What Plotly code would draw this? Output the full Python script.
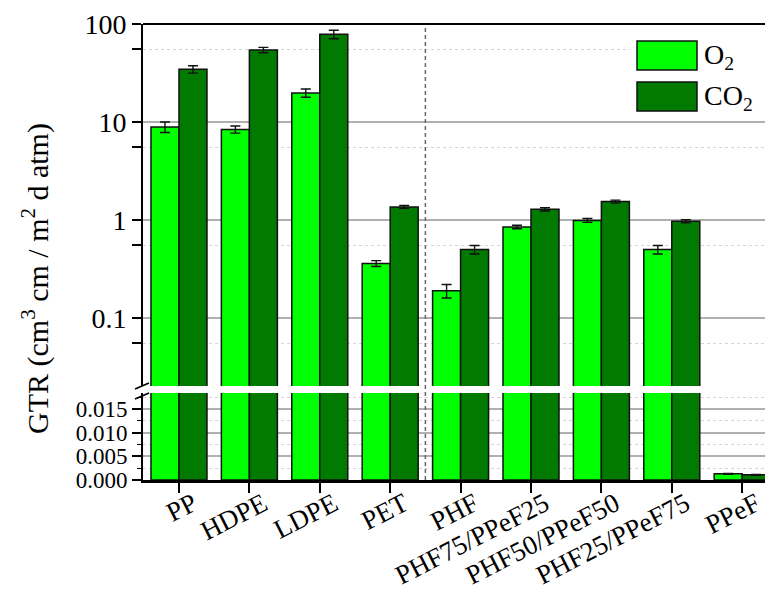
import plotly.graph_objects as go

# ---------------- data ----------------
categories = ["PP", "HDPE", "LDPE", "PET", "PHF",
              "PHF75/PPeF25", "PHF50/PPeF50", "PHF25/PPeF75", "PPeF"]
o2_values = [8.9, 8.4, 19.8, 0.36, 0.19, 0.85, 0.99, 0.50, 0.0013]
o2_errors = [1.1, 0.7, 1.9, 0.025, 0.03, 0.035, 0.045, 0.05, 0.0001]
co2_values = [34.5, 54.3, 78.5, 1.36, 0.50, 1.285, 1.54, 0.97, 0.0011]
co2_errors = [3.0, 3.4, 7.7, 0.045, 0.05, 0.05, 0.055, 0.035, 0.0001]
series_names = ["O<sub>2</sub>", "CO<sub>2</sub>"]

top_tick_vals = [0.1, 1, 10, 100]
top_tick_text = ["0.1", "1", "10", "100"]
top_minor_vals = [0.055, 0.55, 5.5, 55]
bottom_tick_vals = [0, 0.005, 0.010, 0.015]
bottom_tick_text = ["0.000", "0.005", "0.010", "0.015"]
y_title = "GTR (cm<sup>3</sup> cm / m<sup>2</sup> d atm)"

# ---------------- style ----------------
FONT = "Liberation Serif"
C_O2 = "#00FF00"
C_CO2 = "#007A00"
W, H = 765, 590
ML, MR, MT, MB = 143, 0, 24, 110
PW, PH = W - ML - MR, H - MT - MB
TOP_DOMAIN = [(480 - 386) / PH, 1.0]
BOT_DOMAIN = [0.0, (480 - 393) / PH]

fig = go.Figure()
series = [(series_names[0], o2_values, o2_errors, C_O2),
          (series_names[1], co2_values, co2_errors, C_CO2)]
for yax in ["y", "y2"]:
    for name, vals, errs, col in series:
        fig.add_trace(go.Bar(
            x=categories, y=vals, name=name, xaxis="x", yaxis=yax,
            marker=dict(color=col, line=dict(color="#111111", width=1.5)),
            error_y=dict(type="data", array=errs, visible=True,
                         color="#111111", thickness=1.4, width=5),
            showlegend=False,
        ))

grid_major = "#b0b0b0"
grid_minor = "#d6d6d6"

fig.update_layout(
    width=W, height=H,
    margin=dict(l=ML, r=MR, t=MT, b=MB, autoexpand=False),
    plot_bgcolor="white", paper_bgcolor="white",
    barmode="group", bargap=0.2045, bargroupgap=0,
    font=dict(family=FONT, color="black"),
    xaxis=dict(
        domain=[0, 1], anchor="y2", type="category",
        categoryorder="array", categoryarray=categories,
        range=[-0.511, 8.324], automargin=False,
        showline=True, linecolor="black", linewidth=2.5,
        ticks="outside", ticklen=10, tickwidth=1.5, tickcolor="black",
        tickangle=-27, tickfont=dict(family=FONT, size=27),
        ticklabelshift=14, ticklabelstandoff=-15,
        showgrid=False, zeroline=False,
    ),
    yaxis=dict(
        domain=TOP_DOMAIN, anchor="x", type="log",
        range=[-1.694, 2], automargin=False,
        tickmode="array", tickvals=top_tick_vals, ticktext=top_tick_text,
        tickfont=dict(family=FONT, size=28),
        showline=True, linecolor="black", linewidth=2,
        ticks="outside", ticklen=9, tickwidth=1.5, tickcolor="black",
        showgrid=True, gridcolor=grid_major, gridwidth=1.5,
        minor=dict(tickmode="array", tickvals=top_minor_vals,
                   ticks="outside", ticklen=9, tickwidth=1.5, tickcolor="black",
                   showgrid=True, gridcolor=grid_minor, gridwidth=1.2,
                   griddash="3px,3px"),
        zeroline=False,
    ),
    yaxis2=dict(
        domain=BOT_DOMAIN, anchor="x",
        range=[0, 0.0184], automargin=False,
        tickmode="array", tickvals=bottom_tick_vals, ticktext=bottom_tick_text,
        tickfont=dict(family=FONT, size=23),
        showline=True, linecolor="black", linewidth=2,
        ticks="outside", ticklen=9, tickwidth=1.5, tickcolor="black",
        showgrid=True, gridcolor=grid_major, gridwidth=1.5,
        minor=dict(tick0=0, dtick=0.0025, ticks="outside", ticklen=4,
                   tickwidth=1, tickcolor="black",
                   showgrid=True, gridcolor=grid_minor, gridwidth=1.2,
                   griddash="3px,3px"),
        zeroline=False,
    ),
)

def px_x(p):
    return (p - ML) / PW

def px_y(p):
    return (MT + PH - p) / PH

shapes = []
# top border of upper panel
shapes.append(dict(type="line", xref="paper", yref="paper", x0=0, x1=1, y0=1, y1=1,
                   line=dict(color="black", width=2)))
# vertical dashed separator between PET and PHF
shapes.append(dict(type="line", xref="x", yref="paper", x0=3.5, x1=3.5,
                   y0=0, y1=px_y(28), line=dict(color="#666666", width=1.5, dash="4px,3px")))
# axis break marks
for yc in (386, 396):
    shapes.append(dict(type="line", xref="paper", yref="paper",
                       x0=px_x(135), x1=px_x(149), y0=px_y(yc + 3), y1=px_y(yc - 3),
                       line=dict(color="black", width=1.5)))
# custom legend
shapes.append(dict(type="rect", xref="paper", yref="paper", layer="above",
                   x0=px_x(630), x1=px_x(764), y0=px_y(118), y1=px_y(32),
                   fillcolor="white", line=dict(width=0)))
for (name, _, _, col), top in zip(series, (41, 82)):
    shapes.append(dict(type="rect", xref="paper", yref="paper", layer="above",
                       x0=px_x(637), x1=px_x(697), y0=px_y(top + 29), y1=px_y(top),
                       fillcolor=col, line=dict(color="#111111", width=1.5)))
    fig.add_annotation(text=name, xref="paper", yref="paper",
                       x=px_x(702), y=px_y(top + 15), xanchor="left", yanchor="middle",
                       showarrow=False, font=dict(family=FONT, size=28, color="black"))
fig.update_layout(shapes=shapes)

# y-axis title
fig.add_annotation(text=y_title, xref="paper", yref="paper",
                   x=px_x(35), y=px_y(278), xanchor="center", yanchor="middle",
                   textangle=-90, showarrow=False,
                   font=dict(family=FONT, size=30, color="black"))

fig.write_html("out.html", config={"displayModeBar": False},
               post_script="document.body.style.margin='0px';")
